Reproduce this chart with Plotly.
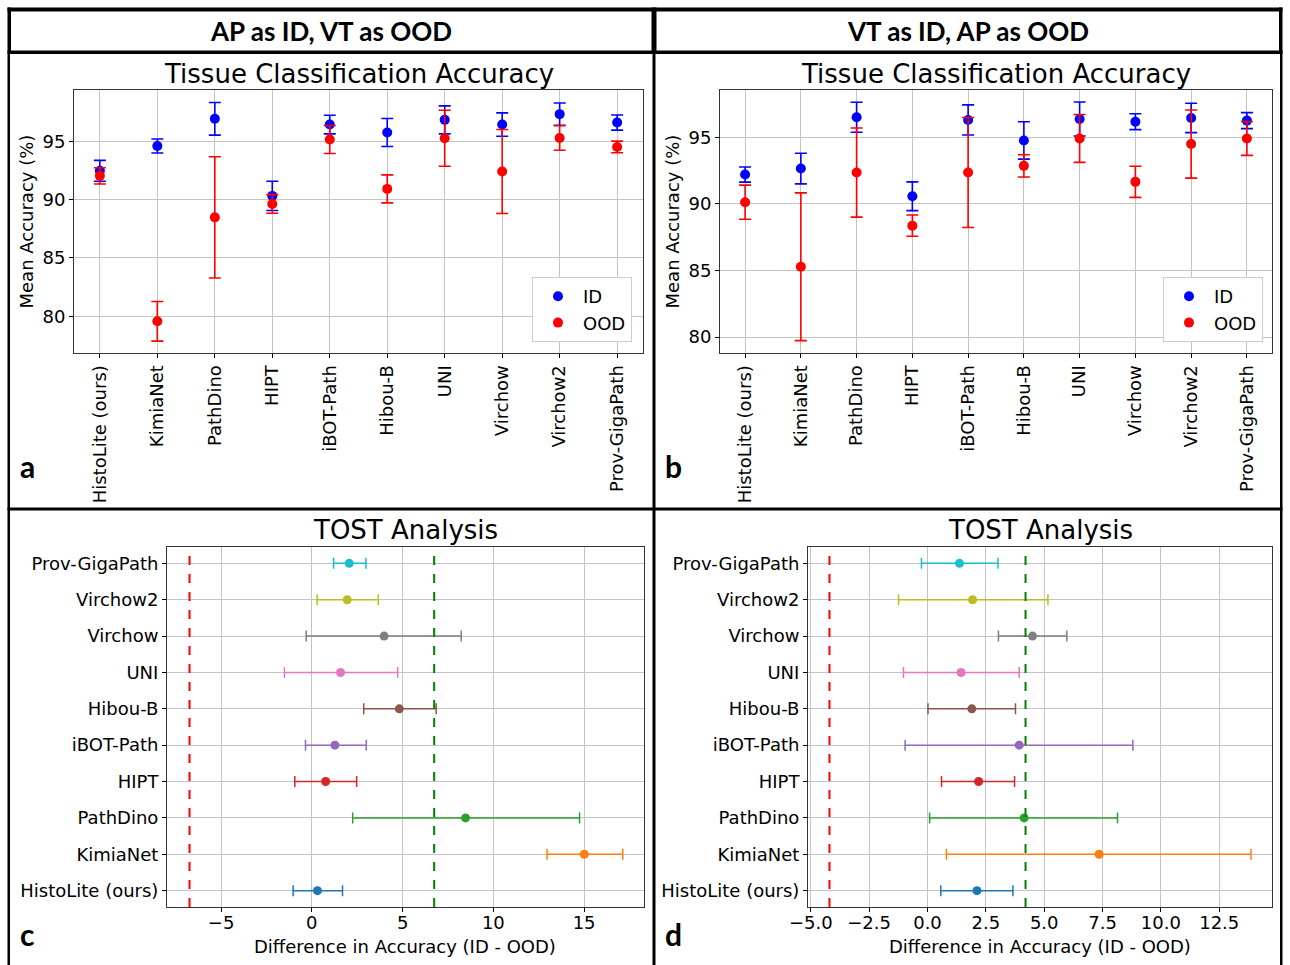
import plotly.graph_objects as go

W, H = 1290, 965

# ---------------- data ----------------
models = ["HistoLite (ours)", "KimiaNet", "PathDino", "HIPT", "iBOT-Path",
          "Hibou-B", "UNI", "Virchow", "Virchow2", "Prov-GigaPath"]

# panel a: AP as ID, VT as OOD
id_a = [92.47, 94.6, 96.93, 90.32, 96.44, 95.75, 96.84, 96.44, 97.33, 96.61]
id_a_err = [0.9, 0.6, 1.4, 1.25, 0.8, 1.2, 1.2, 1.0, 0.95, 0.65]
ood_a = [92.04, 79.57, 88.48, 89.63, 95.15, 90.92, 95.26, 92.41, 95.29, 94.52]
ood_a_err = [0.7, 1.7, 5.2, 0.8, 1.2, 1.2, 2.4, 3.6, 1.05, 0.5]

# panel b: VT as ID, AP as OOD
id_b = [92.21, 92.66, 96.51, 90.58, 96.31, 94.77, 96.38, 96.18, 96.46, 96.26]
id_b_err = [0.57, 1.15, 1.13, 1.08, 1.13, 1.4, 1.28, 0.6, 1.1, 0.6]
ood_b = [90.13, 85.28, 92.36, 88.37, 92.36, 92.86, 94.92, 91.66, 94.5, 94.92]
ood_b_err = [1.28, 5.55, 3.35, 0.8, 4.13, 0.84, 1.8, 1.17, 2.56, 1.27]

# panel c: TOST (AP as ID)
diff_c = [0.31, 15.01, 8.47, 0.76, 1.27, 4.82, 1.58, 3.98, 1.95, 2.06]
lo_c = [-1.03, 12.96, 2.25, -0.94, -0.35, 2.86, -1.51, -0.31, 0.29, 1.2]
hi_c = [1.69, 17.13, 14.75, 2.47, 3.0, 6.85, 4.73, 8.23, 3.66, 2.98]
margin_c = 6.74

# panel d: TOST (VT as ID)
diff_d = [2.12, 7.35, 4.14, 2.19, 3.93, 1.9, 1.44, 4.5, 1.93, 1.37]
lo_d = [0.57, 0.81, 0.09, 0.6, -0.96, 0.02, -1.03, 3.04, -1.24, -0.26]
hi_d = [3.66, 13.86, 8.14, 3.73, 8.8, 3.77, 3.93, 5.97, 5.16, 3.02]
margin_d = 4.2

tab10 = ["#1f77b4", "#ff7f0e", "#2ca02c", "#d62728", "#9467bd",
         "#8c564b", "#e377c2", "#7f7f7f", "#bcbd22", "#17becf"]

# ---------------- helpers ----------------
def px(x):
    return x / W

def py(y):
    return 1 - y / H

MPL = "DejaVu Sans"
HDR = "Lato"

fig = go.Figure()

def acc_traces(xa, ya, idv, ide, oodv, oode, legend):
    fig.add_trace(go.Scatter(
        x=models, y=idv, mode="markers", name="ID", xaxis=xa, yaxis=ya,
        marker=dict(color="blue", size=10),
        error_y=dict(type="data", array=ide, color="blue", thickness=1.6, width=6),
        legend=legend, showlegend=True))
    fig.add_trace(go.Scatter(
        x=models, y=oodv, mode="markers", name="OOD", xaxis=xa, yaxis=ya,
        marker=dict(color="red", size=10),
        error_y=dict(type="data", array=oode, color="red", thickness=1.6, width=6),
        legend=legend, showlegend=True))

acc_traces("x", "y", id_a, id_a_err, ood_a, ood_a_err, "legend")
acc_traces("x2", "y2", id_b, id_b_err, ood_b, ood_b_err, "legend2")

def tost_traces(xa, ya, diff, lo, hi):
    for i, m in enumerate(models):
        fig.add_trace(go.Scatter(
            x=[diff[i]], y=[m], mode="markers", xaxis=xa, yaxis=ya,
            marker=dict(color=tab10[i], size=9),
            error_x=dict(type="data", symmetric=False,
                         array=[hi[i] - diff[i]], arrayminus=[diff[i] - lo[i]],
                         color=tab10[i], thickness=1.5, width=5.5),
            showlegend=False))

tost_traces("x3", "y3", diff_c, lo_c, hi_c)
tost_traces("x4", "y4", diff_d, lo_d, hi_d)

grid = "#c4c4c4"
frame = "#333333"
FS = 18
tickfont = dict(family=MPL, size=FS, color="black")

def axis(domain, **kw):
    d = dict(domain=domain, showgrid=True, gridcolor=grid, gridwidth=1,
             showline=True, linecolor=frame, linewidth=1, mirror=True,
             ticks="outside", ticklen=4, tickcolor="black", tickwidth=1,
             tickfont=tickfont, zeroline=False, automargin=False)
    d.update(kw)
    return d

top_y = [py(353), py(90)]
bot_y = [py(907), py(547)]

layout = dict(
    width=W, height=H, autosize=False,
    margin=dict(l=0, r=0, t=0, b=0, pad=0, autoexpand=False),
    paper_bgcolor="white", plot_bgcolor="white",
    xaxis=axis([px(74), px(643)], anchor="y", type="category",
               categoryarray=models, range=[-0.45, 9.45], tickangle=-90),
    yaxis=axis(top_y, anchor="x", range=[76.85, 99.4], tickvals=[80, 85, 90, 95]),
    xaxis2=axis([px(720), px(1272)], anchor="y2", type="category",
                categoryarray=models, range=[-0.45, 9.45], tickangle=-90),
    yaxis2=axis(top_y, anchor="x2", range=[78.8, 98.56], tickvals=[80, 85, 90, 95]),
    xaxis3=axis([px(167), px(644)], anchor="y3", range=[-7.98, 18.3],
                tickvals=[-5, 0, 5, 10, 15], ticklabelstandoff=-5),
    yaxis3=axis(bot_y, anchor="x3", type="category", categoryarray=models,
                range=[-0.45, 9.45]),
    xaxis4=axis([px(808), px(1272)], anchor="y4", range=[-5.12, 14.76],
                tickvals=[-5, -2.5, 0, 2.5, 5, 7.5, 10, 12.5], tickformat=".1f",
                ticklabelstandoff=-5),
    yaxis4=axis(bot_y, anchor="x4", type="category", categoryarray=models,
                range=[-0.45, 9.45]),
    legend=dict(x=px(632), y=py(342), xanchor="right", yanchor="bottom",
                bgcolor="white", bordercolor="#cccccc", borderwidth=1,
                font=dict(family=MPL, size=FS, color="black"), itemwidth=40,
                tracegroupgap=0),
    legend2=dict(x=px(1263), y=py(342), xanchor="right", yanchor="bottom",
                 bgcolor="white", bordercolor="#cccccc", borderwidth=1,
                 font=dict(family=MPL, size=FS, color="black"), itemwidth=40,
                 tracegroupgap=0),
)
fig.update_layout(**layout)

shapes = []
# equivalence margins
for xa, m in (("x3", margin_c), ("x4", margin_d)):
    ya = "y3 domain" if xa == "x3" else "y4 domain"
    shapes.append(dict(type="line", xref=xa, yref=ya, x0=-m, x1=-m, y0=0, y1=1,
                       line=dict(color="red", width=2, dash="dash")))
    shapes.append(dict(type="line", xref=xa, yref=ya, x0=m, x1=m, y0=0, y1=1,
                       line=dict(color="green", width=2, dash="dash")))

def rect(x0, y0, x1, y1):
    shapes.append(dict(type="rect", xref="paper", yref="paper",
                       x0=px(x0), x1=px(x1), y0=py(y1), y1=py(y0),
                       fillcolor="black", line=dict(width=0), layer="above"))

# figure borders
rect(7.5, 7.5, 1282.5, 11.5)        # top
rect(7.5, 50.5, 1282.5, 54)         # header bottom
rect(7.5, 7.5, 11, 54)              # left header
rect(7.5, 54, 10, 965)              # left body
rect(651.5, 7.5, 656.5, 54)         # middle header
rect(652.5, 54, 655.5, 965)         # middle body
rect(1279, 7.5, 1282.5, 54)         # right header
rect(1280, 54, 1282.5, 965)         # right body
rect(7.5, 507.5, 1282.5, 510.5)     # middle horizontal

fig.update_layout(shapes=shapes)

ann = []
def text(x, y, s, size, family=MPL, bold=False, angle=0):
    ann.append(dict(xref="paper", yref="paper", x=px(x), y=py(y), text=f"<b>{s}</b>" if bold else s,
                    showarrow=False, xanchor="center", yanchor="middle", textangle=angle,
                    font=dict(family=family, size=size, color="black")))

text(331, 31, "AP as ID, VT as OOD", 26, HDR, bold=True)
text(968, 31, "VT as ID, AP as OOD", 26, HDR, bold=True)
text(358.5, 74, "Tissue Classification Accuracy", 26)
text(996, 74, "Tissue Classification Accuracy", 26)
text(405, 530, "TOST Analysis", 26)
text(1040, 530, "TOST Analysis", 26)
text(26, 221.5, "Mean Accuracy (%)", FS, angle=-90)
text(672, 221.5, "Mean Accuracy (%)", FS, angle=-90)
text(405, 946, "Difference in Accuracy (ID - OOD)", FS)
text(1040, 946, "Difference in Accuracy (ID - OOD)", FS)
text(27, 466, "a", 30, HDR, bold=True)
text(674, 466, "b", 30, HDR, bold=True)
text(27, 934, "c", 30, HDR, bold=True)
text(674, 934, "d", 30, HDR, bold=True)
fig.update_layout(annotations=ann)

fig.write_html("out.html", config={"displayModeBar": False},
               post_script="document.body.style.margin='0';document.body.style.overflow='hidden';")
